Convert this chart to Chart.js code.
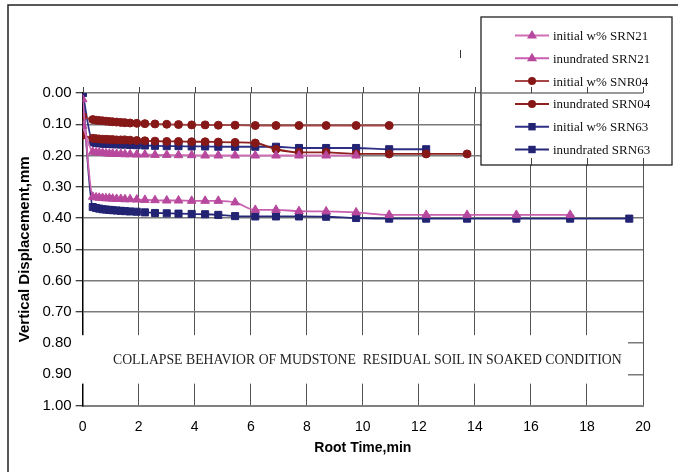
<!DOCTYPE html>
<html>
<head>
<meta charset="utf-8">
<script src="https://cdn.jsdelivr.net/npm/chart.js@4.4.1/dist/chart.umd.min.js"></script>
<style>
  html, body { margin: 0; padding: 0; background: #fff; }
  #wrap { width: 678px; height: 472px; position: relative; }
</style>
</head>
<body>
<div id="wrap"><canvas id="graphCanvas"></canvas></div>
<script>
// root time readings (min^0.5), shared by all six curves
const rootTime = [0, 0.36, 0.48, 0.59, 0.71, 0.83, 0.95, 1.07, 1.21, 1.36, 1.51, 1.69, 1.93, 2.22, 2.58,
  3.0, 3.42, 3.89, 4.37, 4.84, 5.44, 6.16, 6.9, 7.72, 8.69, 9.76, 10.94, 12.26, 13.72, 15.48, 17.4, 19.51];

// vertical displacement, mm
const srn21Initial = [0.105, 0.188, 0.190, 0.191, 0.192, 0.193, 0.194, 0.194, 0.195, 0.195, 0.196, 0.196, 0.197,
  0.197, 0.198, 0.198, 0.199, 0.199, 0.200, 0.200, 0.200, 0.200, 0.200, 0.200, 0.200, 0.200];
const srn21Inundated = [0.02, 0.332, 0.334, 0.335, 0.336, 0.337, 0.337, 0.338, 0.339, 0.339, 0.340, 0.340, 0.341,
  0.342, 0.343, 0.344, 0.344, 0.345, 0.345, 0.345, 0.350, 0.374, 0.374, 0.378, 0.379, 0.382, 0.390, 0.390,
  0.390, 0.390, 0.390];
const srn04Initial = [0.075, 0.085, 0.087, 0.088, 0.089, 0.090, 0.091, 0.092, 0.093, 0.094, 0.095, 0.096, 0.097,
  0.098, 0.099, 0.100, 0.101, 0.102, 0.102, 0.103, 0.103, 0.104, 0.104, 0.104, 0.104, 0.104, 0.104];
const srn04Inundated = [0.135, 0.145, 0.146, 0.147, 0.148, 0.148, 0.149, 0.149, 0.150, 0.150, 0.150, 0.151, 0.152,
  0.153, 0.154, 0.155, 0.155, 0.156, 0.156, 0.157, 0.158, 0.160, 0.180, 0.190, 0.190, 0.195, 0.195, 0.195, 0.195];
const srn63Initial = [0.00, 0.158, 0.160, 0.161, 0.162, 0.163, 0.163, 0.164, 0.164, 0.165, 0.165, 0.166, 0.167,
  0.168, 0.169, 0.170, 0.170, 0.171, 0.171, 0.172, 0.172, 0.172, 0.172, 0.176, 0.176, 0.176, 0.180, 0.180];
const srn63Inundated = [0.00, 0.365, 0.368, 0.370, 0.372, 0.373, 0.374, 0.375, 0.376, 0.377, 0.378, 0.379, 0.380,
  0.382, 0.384, 0.385, 0.386, 0.387, 0.388, 0.390, 0.394, 0.395, 0.395, 0.395, 0.396, 0.400, 0.402, 0.402,
  0.402, 0.402, 0.402, 0.402];

const seriesNames = ['initial w% SRN21', 'inundrated SRN21', 'initial w% SNR04', 'inundrated SRN04',
  'initial w% SRN63', 'inundrated SRN63'];
const xTicks = [0, 2, 4, 6, 8, 10, 12, 14, 16, 18, 20];
const yTicks = [0, 0.1, 0.2, 0.3, 0.4, 0.5, 0.6, 0.7, 0.8, 0.9, 1.0];
const noteText = 'COLLAPSE BEHAVIOR OF MUDSTONE  RESIDUAL SOIL IN SOAKED CONDITION';

const seriesValues = [srn21Initial, srn21Inundated, srn04Initial, srn04Inundated, srn63Initial, srn63Inundated];
const lineColors = ['#cf6fb6', '#c95fae', '#a54545', '#8f2020', '#2f2f85', '#28287a'];
const markColors = ['#b7489d', '#b7489d', '#861818', '#861818', '#232373', '#232373'];
const markStyles = ['triangle', 'triangle', 'circle', 'circle', 'rect', 'rect'];
const markSizes = [5, 5, 4, 4, 5, 5];

const datasets = seriesValues.map((vals, i) => ({
  label: seriesNames[i],
  data: vals.map((v, k) => ({ x: rootTime[k], y: v })),
  borderColor: lineColors[i],
  backgroundColor: markColors[i],
  pointBackgroundColor: markColors[i],
  pointBorderColor: markColors[i],
  pointStyle: markStyles[i],
  pointRadius: markSizes[i],
  pointBorderWidth: 1,
  borderWidth: 1.8,
  cubicInterpolationMode: 'monotone',
  fill: false,
}));

// marker for the legend box
function drawMark(ctx, style, x, y, color) {
  ctx.fillStyle = color;
  ctx.beginPath();
  if (style === 'triangle') {
    ctx.moveTo(x, y - 5.5);
    ctx.lineTo(x + 5, y + 3);
    ctx.lineTo(x - 5, y + 3);
    ctx.closePath();
  } else if (style === 'circle') {
    ctx.arc(x, y, 4, 0, Math.PI * 2);
  } else {
    ctx.rect(x - 3.7, y - 3.7, 7.4, 7.4);
  }
  ctx.fill();
}

const extras = {
  id: 'extras',
  afterDraw(chart) {
    const ctx = chart.ctx;
    const xs = chart.scales.x;
    const ys = chart.scales.y;
    const area = chart.chartArea;
    ctx.save();

    // outer frame (top + left)
    ctx.strokeStyle = '#222';
    ctx.lineWidth = 1.5;
    ctx.beginPath();
    ctx.moveTo(8, 472);
    ctx.lineTo(8, 5);
    ctx.lineTo(678, 5);
    ctx.stroke();

    // grid stubs above the plot
    ctx.strokeStyle = '#444';
    ctx.lineWidth = 1;
    xTicks.forEach(t => {
      const px = Math.round(xs.getPixelForValue(t)) + 0.5;
      ctx.beginPath();
      ctx.moveTo(px, area.top - 6);
      ctx.lineTo(px, area.top);
      ctx.stroke();
    });

    // note box across the lower plot
    const by0 = ys.getPixelForValue(0.775);
    const by1 = ys.getPixelForValue(0.93);
    ctx.fillStyle = '#fff';
    ctx.fillRect(74, by0, 554, by1 - by0);
    ctx.fillStyle = '#222';
    ctx.font = '13px "Liberation Serif", "Times New Roman", serif';
    const w = ctx.measureText(noteText).width;
    const size = 13 * 509 / w;
    ctx.font = size.toFixed(2) + 'px "Liberation Serif", "Times New Roman", serif';
    ctx.textBaseline = 'middle';
    ctx.textAlign = 'left';
    ctx.fillText(noteText, 113, (by0 + by1) / 2 + 1);

    // legend box
    const lx = 481, ly = 17, lw = 191, lh = 148;
    ctx.fillStyle = '#fff';
    ctx.fillRect(lx, ly, lw, lh);
    ctx.strokeStyle = '#222';
    ctx.lineWidth = 1.3;
    ctx.strokeRect(lx, ly, lw, lh);
    // plot top line and grid stubs showing through the legend
    ctx.strokeStyle = '#777';
    ctx.lineWidth = 1.5;
    ctx.beginPath();
    ctx.moveTo(lx, area.top);
    ctx.lineTo(area.right, area.top);
    ctx.stroke();
    ctx.strokeStyle = '#444';
    ctx.lineWidth = 1;
    [16, 18, 20].forEach(t => {
      const px = Math.round(xs.getPixelForValue(t)) + 0.5;
      ctx.beginPath();
      ctx.moveTo(px, area.top - 6);
      ctx.lineTo(px, area.top);
      ctx.moveTo(px, ly + lh - 7);
      ctx.lineTo(px, ly + lh + 1);
      ctx.stroke();
    });

    ctx.font = '13px "Liberation Serif", "Times New Roman", serif';
    ctx.textBaseline = 'middle';
    seriesNames.forEach((name, i) => {
      const y = 35.5 + i * 22.8;
      ctx.strokeStyle = lineColors[i];
      ctx.lineWidth = 2;
      ctx.beginPath();
      ctx.moveTo(515, y);
      ctx.lineTo(549, y);
      ctx.stroke();
      drawMark(ctx, markStyles[i], 532, y, markColors[i]);
      ctx.fillStyle = '#111';
      ctx.fillText(name, 553, y + 1);
    });

    // stray mark left of the legend
    ctx.strokeStyle = '#333';
    ctx.lineWidth = 1;
    ctx.beginPath();
    ctx.moveTo(460.5, 50);
    ctx.lineTo(460.5, 58);
    ctx.stroke();
    ctx.restore();
  }
};

const ctx = document.getElementById('graphCanvas').getContext('2d');
new Chart(ctx, {
  type: 'line',
  data: { datasets: datasets },
  options: {
    animation: false,
    responsive: true,
    maintainAspectRatio: false,
    devicePixelRatio: 1,
    layout: { padding: { left: 0, top: 93, right: 35, bottom: 0 } },
    scales: {
      x: {
        type: 'linear',
        min: 0,
        max: 20,
        afterBuildTicks: s => { s.ticks = xTicks.map(v => ({ value: v })); },
        afterFit: s => { s.height = 66.5; },
        ticks: {
          color: '#000',
          padding: 13,
          font: { family: '"Liberation Sans", Arial, sans-serif', size: 14 },
          callback: v => String(v)
        },
        grid: { color: '#555', lineWidth: 1, drawTicks: false },
        border: { color: '#808080', width: 2 },
        title: {
          display: true,
          text: 'Root Time,min',
          color: '#000',
          font: { family: '"Liberation Sans", Arial, sans-serif', size: 14, weight: 'bold' },
          padding: { top: 0, bottom: 15 }
        }
      },
      y: {
        type: 'linear',
        reverse: true,
        min: 0,
        max: 1,
        afterBuildTicks: s => { s.ticks = yTicks.map(v => ({ value: v })); },
        afterFit: s => { s.width = 82.7; },
        ticks: {
          color: '#000',
          padding: 4,
          font: { family: '"Liberation Sans", Arial, sans-serif', size: 15 },
          callback: v => Number(v).toFixed(2)
        },
        grid: { color: '#7a7a7a', lineWidth: 1.5, tickLength: 7, tickColor: '#000', tickWidth: 1 },
        border: { color: '#000', width: 1.5 },
        title: {
          display: true,
          text: 'Vertical Displacement,mm',
          color: '#000',
          font: { family: '"Liberation Sans", Arial, sans-serif', size: 15, weight: 'bold' },
          padding: { top: 16, bottom: 0 }
        }
      }
    },
    plugins: {
      legend: { display: false },
      tooltip: { enabled: false }
    }
  },
  plugins: [extras]
});
</script>
</body>
</html>
